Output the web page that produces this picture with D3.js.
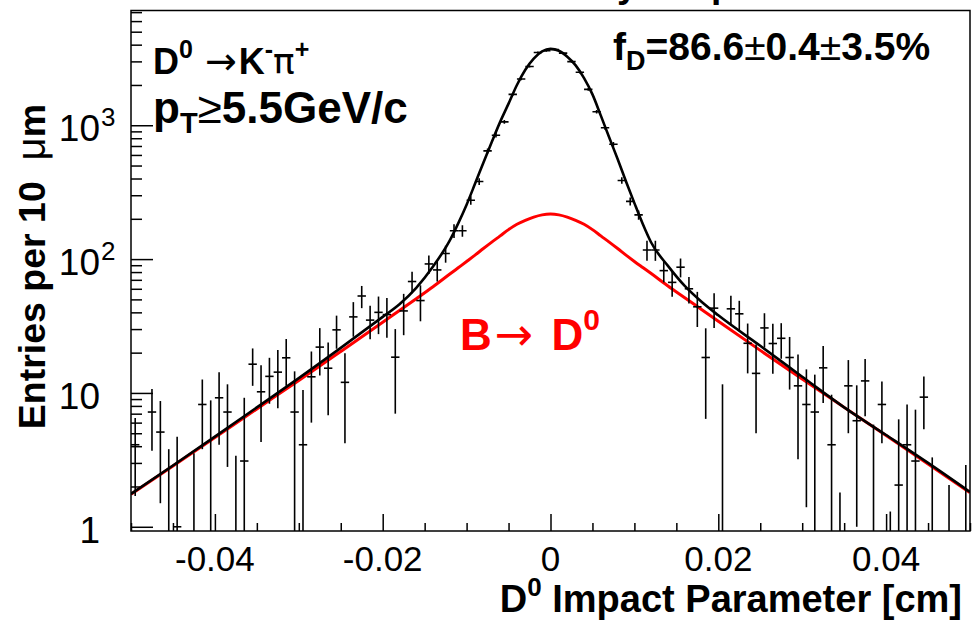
<!DOCTYPE html>
<html>
<head>
<meta charset="utf-8">
<script src="https://cdn.jsdelivr.net/npm/d3@7"></script>
<style>
  body { margin: 0; background: #fff; }
  svg { display: block; font-family: "Liberation Sans", Arial, Helvetica, sans-serif; }
  .sym { font-family: "DejaVu Sans", sans-serif; font-weight: normal; }
</style>
</head>
<body>
<div id="chart"></div>
<script>
// histogram: 100 bins of 10 um from -0.05 to 0.05 cm
const binStart = -0.05;
const binWidth = 0.001;
const entries = [
  4.1, 0, 7.2, 5.1, 0.7, 1.0, 0, 0.6, 8.2, 0.8,
  9.2, 7.2, 0.7, 3.1, 16.4, 10.2, 13.3, 14.3, 18.3, 7.2,
  4.1, 13.2, 22, 15.3, 29.6, 12, 37, 53, 35, 40,
  38.5, 18.5, 41, 68, 49, 92, 83, 110, 163, 163,
  275, 380, 643, 843, 1060, 1700, 2218, 2748, 3500, 3600,
  3680, 3460, 2990, 2490, 1855, 1262, 958, 721, 387, 270,
  214, 117, 117, 82, 67, 87, 60, 44, 18.4, 43,
  0.8, 42.5, 39, 23.5, 14, 30.6, 23.4, 25.6, 18.4, 11.3,
  8.2, 7.2, 15.4, 4.1, 0.7, 11.3, 6.2, 12.3, 0.8, 8.2,
  0.5, 2.05, 4.1, 3.1, 9.3, 0.7, 0, 0.6, 0, 0.7
];
const entryErrors = [
  2.4, 0, 3.5, 3.6, 3.1, 3.7, 0, 2.95, 4.4, 8.0,
  5.1, 4.4, 2.7, 6.1, 5.1, 5.9, 5.0, 6.6, 7.0, 7.3,
  6.4, 7.2, 8.5, 8.5, 8.2, 7.8, 10.7, 10, 9.8, 12.5,
  12.7, 11.5, 14, 12.5, 14.7, 14.5, 15, 16, 19, 16,
  20, 22, 28, 32, 35, 42, 48, 53, 60, 60,
  61, 59, 55, 50, 43, 36, 31, 28, 22, 19,
  17, 20, 20, 15, 14.7, 14, 13.5, 12.9, 12, 12.5,
  10.8, 10.7, 9.8, 9.5, 9, 8.8, 9.5, 7.6, 7.8, 8.1,
  6.8, 6.5, 7.0, 5.6, 1.1, 6.3, 5.2, 5.6, 5.0, 4.0,
  0.8, 4.3, 4.1, 4.4, 3.95, 2.6, 0, 1.45, 0, 2.2
];

// fit curves
const curveX = [
  -0.05, -0.045, -0.04, -0.035, -0.03, -0.025, -0.02, -0.018, -0.016, -0.014, -0.012,
  -0.011, -0.010, -0.009, -0.008, -0.007, -0.006, -0.005, -0.004, -0.003, -0.002, -0.001,
  0, 0.001, 0.002, 0.003, 0.004, 0.005, 0.006, 0.007, 0.008, 0.009, 0.010, 0.011,
  0.012, 0.014, 0.016, 0.018, 0.02, 0.025, 0.03, 0.035, 0.04, 0.045, 0.05
];
const fitTotal = [
  1.76, 2.87, 4.72, 7.8, 12.9, 21.7, 37, 46, 61, 88, 138,
  185, 255, 365, 525, 750, 1060, 1450, 2000, 2600, 3150, 3560,
  3720, 3600, 3250, 2800, 2250, 1700, 1180, 810, 560, 380, 262, 183,
  133, 89, 63, 48, 38, 22.5, 13.2, 7.8, 4.85, 3.0, 1.82
];
const fitFromB = [
  1.75, 2.85, 4.65, 7.6, 12.4, 20.4, 33.7, 41.3, 50.6, 62.2, 77.3,
  86.1, 95.9, 107, 120, 134, 149, 166, 182, 195, 206, 214,
  217, 214, 206, 195, 182, 166, 149, 134, 120, 107, 96, 86.5,
  78, 63, 51.5, 42, 34.3, 20.8, 12.7, 7.8, 4.8, 2.95, 1.8
];

const xMajorTicks = [-0.04, -0.02, 0, 0.02, 0.04];
const xTickLabels = ["-0.04", "-0.02", "0", "0.02", "0.04"];
const yMajorTicks = [1, 10, 100, 1000];
const yTickLabels = [["1", ""], ["10", ""], ["10", "2"], ["10", "3"]];

const W = 975, H = 620;
const frame = { left: 131, right: 970, top: 10.5, bottom: 531 };
const yMin = 0.93, yMax = 7200;

const svg = d3.select("#chart").append("svg")
  .attr("width", W).attr("height", H)
  .attr("viewBox", `0 0 ${W} ${H}`);

const x = d3.scaleLinear().domain([-0.05, 0.05]).range([frame.left, frame.right]);
const y = d3.scaleLog().domain([yMin, yMax]).range([frame.bottom, frame.top]);

svg.append("clipPath").attr("id", "plotclip")
  .append("rect")
  .attr("x", frame.left).attr("y", frame.top)
  .attr("width", frame.right - frame.left).attr("height", frame.bottom - frame.top);

// title of the pad, almost fully cut off at the top
svg.append("text").attr("x", 617).attr("y", -3)
  .style("font-weight", "bold").style("font-size", "37px").text("y");
svg.append("text").attr("x", 711).attr("y", -3)
  .style("font-weight", "bold").style("font-size", "37px").text("p");

// ticks (ROOT style, pointing inside)
const minorX = d3.range(-50, 51, 5).map(d => d / 1000).filter(d => Math.abs(d * 1000) % 20 !== 0);
svg.append("g")
  .attr("transform", `translate(0,${frame.bottom})`)
  .call(d3.axisBottom(x).tickValues(minorX).tickSize(-8).tickFormat(""))
  .call(g => g.select(".domain").remove())
  .selectAll("line").attr("stroke", "#000").attr("stroke-width", 1.5);
svg.append("g")
  .attr("transform", `translate(0,${frame.bottom})`)
  .call(d3.axisBottom(x).tickValues(xMajorTicks).tickSize(-17).tickFormat(""))
  .call(g => g.select(".domain").remove())
  .selectAll("line").attr("stroke", "#000").attr("stroke-width", 1.5);

const minorY = [];
[1, 10, 100, 1000].forEach(dec => {
  for (let k = 2; k <= 9; k++) if (dec * k < yMax) minorY.push(dec * k);
});
svg.append("g")
  .attr("transform", `translate(${frame.left},0)`)
  .call(d3.axisLeft(y).tickValues(minorY).tickSize(-11).tickFormat(""))
  .call(g => g.select(".domain").remove())
  .selectAll("line").attr("stroke", "#000").attr("stroke-width", 1.5);
svg.append("g")
  .attr("transform", `translate(${frame.left},0)`)
  .call(d3.axisLeft(y).tickValues(yMajorTicks).tickSize(-22).tickFormat(""))
  .call(g => g.select(".domain").remove())
  .selectAll("line").attr("stroke", "#000").attr("stroke-width", 1.5);

// tick labels
svg.append("g").selectAll("text")
  .data(xMajorTicks)
  .join("text")
  .attr("x", d => x(d)).attr("y", 570.5)
  .attr("text-anchor", "middle")
  .style("font-size", "35px")
  .text((d, i) => xTickLabels[i]);

const yl = svg.append("g").selectAll("g")
  .data(yMajorTicks)
  .join("g")
  .attr("transform", d => `translate(100,${y(d) + 16})`);
yl.append("text")
  .attr("text-anchor", "end")
  .style("font-size", "37px")
  .text((d, i) => yTickLabels[i][0]);
yl.append("text")
  .attr("x", 1).attr("y", -15)
  .style("font-size", "26px")
  .text((d, i) => yTickLabels[i][1]);

// axis titles
const xt = svg.append("text")
  .attr("x", 962).attr("y", 611.5)
  .attr("text-anchor", "end")
  .style("font-weight", "bold").style("font-size", "38px");
xt.append("tspan").text("D");
xt.append("tspan").attr("dy", -16).style("font-size", "26px").text("0");
xt.append("tspan").attr("dy", 16).text(" Impact Parameter [cm]");

const ytl = svg.append("text")
  .attr("transform", "translate(45,104) rotate(-90)")
  .attr("text-anchor", "end")
  .style("font-weight", "bold").style("font-size", "37.5px")
  .style("white-space", "pre");
ytl.append("tspan").text("Entries per 10  ");
ytl.append("tspan").style("font-weight", "normal").style("font-size", "40px").text("\u03bc");
ytl.append("tspan").text("m");

// curves
const plot = svg.append("g").attr("clip-path", "url(#plotclip)");
const line = d3.line()
  .x(d => x(d[0]))
  .y(d => y(d[1]))
  .curve(d3.curveMonotoneX);

plot.append("path")
  .datum(curveX.map((cx, i) => [cx, fitFromB[i]]))
  .attr("d", line)
  .attr("fill", "none").attr("stroke", "#ff0000").attr("stroke-width", 3);

// data points with error bars
const bins = entries.map((v, i) => ({
  lo: binStart + i * binWidth,
  hi: binStart + (i + 1) * binWidth,
  mid: binStart + (i + 0.5) * binWidth,
  v: v, e: entryErrors[i]
})).filter(b => b.v > 0);

const pts = plot.append("g").attr("stroke", "#000").attr("stroke-width", 1.6);
pts.selectAll(".ebar")
  .data(bins)
  .join("line")
  .attr("class", "ebar")
  .attr("x1", d => x(d.mid)).attr("x2", d => x(d.mid))
  .attr("y1", d => y(Math.min(d.v + d.e, yMax)))
  .attr("y2", d => d.v - d.e > yMin ? y(d.v - d.e) : frame.bottom);
pts.selectAll(".hbar")
  .data(bins.filter(b => b.v >= yMin))
  .join("line")
  .attr("class", "hbar")
  .attr("x1", d => x(d.lo)).attr("x2", d => x(d.hi))
  .attr("y1", d => y(d.v)).attr("y2", d => y(d.v));

plot.append("path")
  .datum(curveX.map((cx, i) => [cx, fitTotal[i]]))
  .attr("d", line)
  .attr("fill", "none").attr("stroke", "#000").attr("stroke-width", 2.6);

// frame
svg.append("rect")
  .attr("x", frame.left).attr("y", frame.top)
  .attr("width", frame.right - frame.left).attr("height", frame.bottom - frame.top)
  .attr("fill", "none").attr("stroke", "#000").attr("stroke-width", 1.5);

// labels in the pad
const l1 = svg.append("text").attr("x", 153).attr("y", 74)
  .style("font-weight", "bold").style("font-size", "36px");
l1.append("tspan").text("D");
l1.append("tspan").attr("dy", -16).style("font-size", "25px").text("0");
l1.append("tspan").attr("dy", 16).attr("dx", 12).attr("class", "sym").style("font-size", "38px").text("\u2192");
l1.append("tspan").attr("dx", 2).text("K");
l1.append("tspan").attr("dy", -16).style("font-size", "25px").text("-");
l1.append("tspan").attr("dy", 16).attr("class", "sym").text("\u03c0");
l1.append("tspan").attr("dy", -16).style("font-size", "25px").text("+");

const l2 = svg.append("text").attr("x", 153).attr("y", 123)
  .style("font-weight", "bold").style("font-size", "44px");
l2.append("tspan").text("p");
l2.append("tspan").attr("dy", 10).style("font-size", "29px").text("T");
l2.append("tspan").attr("dy", -10).style("font-weight", "normal").text("\u2265");
l2.append("tspan").text("5.5GeV/c");

const l3 = svg.append("text").attr("x", 613).attr("y", 60)
  .style("font-weight", "bold").style("font-size", "39px");
l3.append("tspan").text("f");
l3.append("tspan").attr("dy", 10).style("font-size", "27px").text("D");
l3.append("tspan").attr("dy", -10).text("=86.6");
l3.append("tspan").style("font-weight", "normal").text("\u00b1");
l3.append("tspan").text("0.4");
l3.append("tspan").style("font-weight", "normal").text("\u00b1");
l3.append("tspan").text("3.5%");

const l4 = svg.append("text").attr("x", 460).attr("y", 350)
  .attr("fill", "#ff0000")
  .style("font-weight", "bold").style("font-size", "44px")
  .style("white-space", "pre");
l4.append("tspan").text("B");
l4.append("tspan").attr("dx", 3).attr("class", "sym").style("font-size", "46px").text("\u2192");
l4.append("tspan").attr("dx", 6).text(" D");
l4.append("tspan").attr("dy", -20).style("font-size", "30px").text("0");
</script>
</body>
</html>
